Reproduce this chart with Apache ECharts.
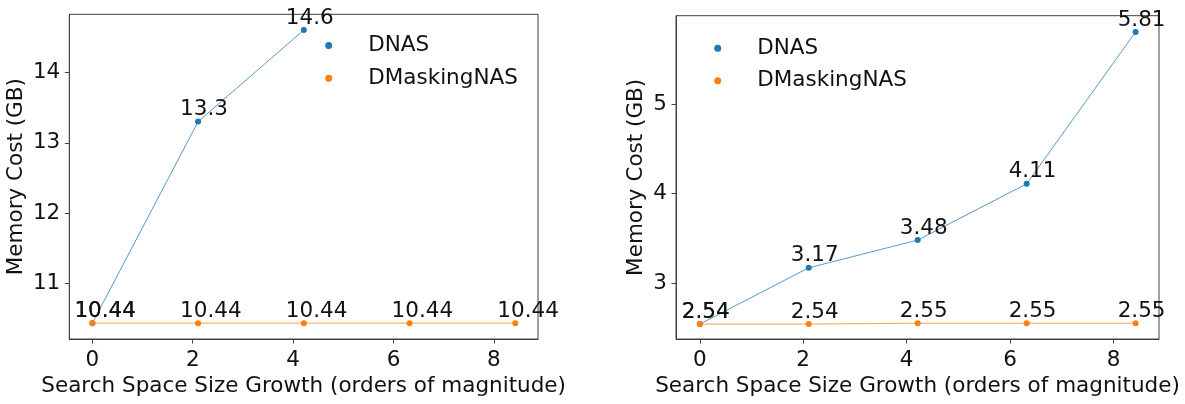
<!DOCTYPE html>
<html>
<head>
<meta charset="utf-8">
<script src="https://cdn.jsdelivr.net/npm/echarts@6/dist/echarts.min.js"></script>
<style>
html,body{margin:0;padding:0;background:#fff;}
#c{width:1185px;height:404px;}
</style>
</head>
<body>
<div id="c"></div>
<script>
// x positions: search space size growth (orders of magnitude)
const xValues = [0, 2.107, 4.214, 6.321, 8.428];
const xTicks = [0, 2, 4, 6, 8];

// Left panel
const leftDNAS = [10.44, 13.3, 14.6];
const leftDMasking = [10.44, 10.44, 10.44, 10.44, 10.44];
const leftYTicks = [11, 12, 13, 14];

// Right panel
const rightDNAS = [2.54, 3.17, 3.48, 4.11, 5.81];
const rightDMasking = [2.54, 2.54, 2.55, 2.55, 2.55];
const rightYTicks = [3, 4, 5];

const seriesNames = ['DNAS', 'DMaskingNAS'];
const colors = ['#1f77b4', '#ff7f0e'];
const xName = 'Search Space Size Growth (orders of magnitude)';
const yName = 'Memory Cost (GB)';

const FONT = 'DejaVu Sans';
const FS = 21.5;
const AX = '#404040';

function pairs(vals) { return vals.map((v, i) => [xValues[i], v]); }

function xAxis(gi) {
  return {
    type: 'value', gridIndex: gi, min: -0.46, max: 8.88,
    name: xName, nameLocation: 'middle', nameGap: 30,
    nameTextStyle: { fontFamily: FONT, fontSize: FS, color: '#111' },
    axisLine: { show: true, onZero: false, lineStyle: { color: AX, width: 1 } },
    axisTick: { show: true, inside: false, length: 4.5, lineStyle: { color: AX }, customValues: xTicks },
    axisLabel: { fontFamily: FONT, fontSize: FS, color: '#111', margin: 10, customValues: xTicks },
    splitLine: { show: false }
  };
}
function yAxis(gi, min, max, ticks, gap) {
  return {
    type: 'value', gridIndex: gi, min: min, max: max,
    name: yName, nameLocation: 'middle', nameGap: gap,
    nameTextStyle: { fontFamily: FONT, fontSize: FS, color: '#111' },
    axisLine: { show: true, onZero: false, lineStyle: { color: AX, width: 1 } },
    axisTick: { show: true, inside: false, length: 4.5, lineStyle: { color: AX }, customValues: ticks },
    axisLabel: { fontFamily: FONT, fontSize: FS, color: '#111', margin: 9, customValues: ticks },
    splitLine: { show: false }
  };
}
function line(name, gi, vals, ci) {
  return {
    name: name, type: 'line', xAxisIndex: gi, yAxisIndex: gi,
    data: pairs(vals),
    symbol: 'circle', symbolSize: 6, showSymbol: true,
    itemStyle: { color: colors[ci] },
    lineStyle: { color: colors[ci], width: 1, opacity: 0.75 },
    label: {
      show: true, position: 'top', distance: 1, align: 'left',
      fontFamily: FONT, fontSize: FS, color: '#111',
      formatter: p => String(p.value[1])
    },
    labelLayout: { hideOverlap: false, dx: -18, dy: 3 },
    emphasis: { disabled: true },
    clip: false,
    animation: false,
    z: 2 + ci
  };
}
function legend(left, top, names) {
  return {
    orient: 'vertical', left: left, top: top, padding: 0,
    data: names.map(n => ({ name: n, icon: 'circle' })),
    itemWidth: 7, itemHeight: 7, itemGap: 8.6,
    selectedMode: false,
    textStyle: { fontFamily: FONT, fontSize: FS, color: '#111', lineHeight: 24, padding: [0, 0, 0, 31] }
  };
}

const chart = echarts.init(document.getElementById('c'), null, { renderer: 'canvas' });
chart.setOption({
  animation: false,
  backgroundColor: '#fff',
  grid: [
    { left: 69.3, top: 14.3, width: 468.7, height: 324.7, show: true, borderColor: AX, borderWidth: 1, backgroundColor: 'transparent' },
    { left: 676, top: 15.7, width: 483, height: 323.3, show: true, borderColor: AX, borderWidth: 1, backgroundColor: 'transparent' }
  ],
  xAxis: [xAxis(0), xAxis(1)],
  yAxis: [yAxis(0, 10.215, 14.823, leftYTicks, 42), yAxis(1, 2.373, 5.992, rightYTicks, 29)],
  legend: [legend(325.2, 33.6, seriesNames), legend(714.2, 36.2, seriesNames)],
  series: [
    line(seriesNames[0], 0, leftDNAS, 0),
    line(seriesNames[1], 0, leftDMasking, 1),
    line(seriesNames[0], 1, rightDNAS, 0),
    line(seriesNames[1], 1, rightDMasking, 1)
  ]
});
</script>
</body>
</html>
